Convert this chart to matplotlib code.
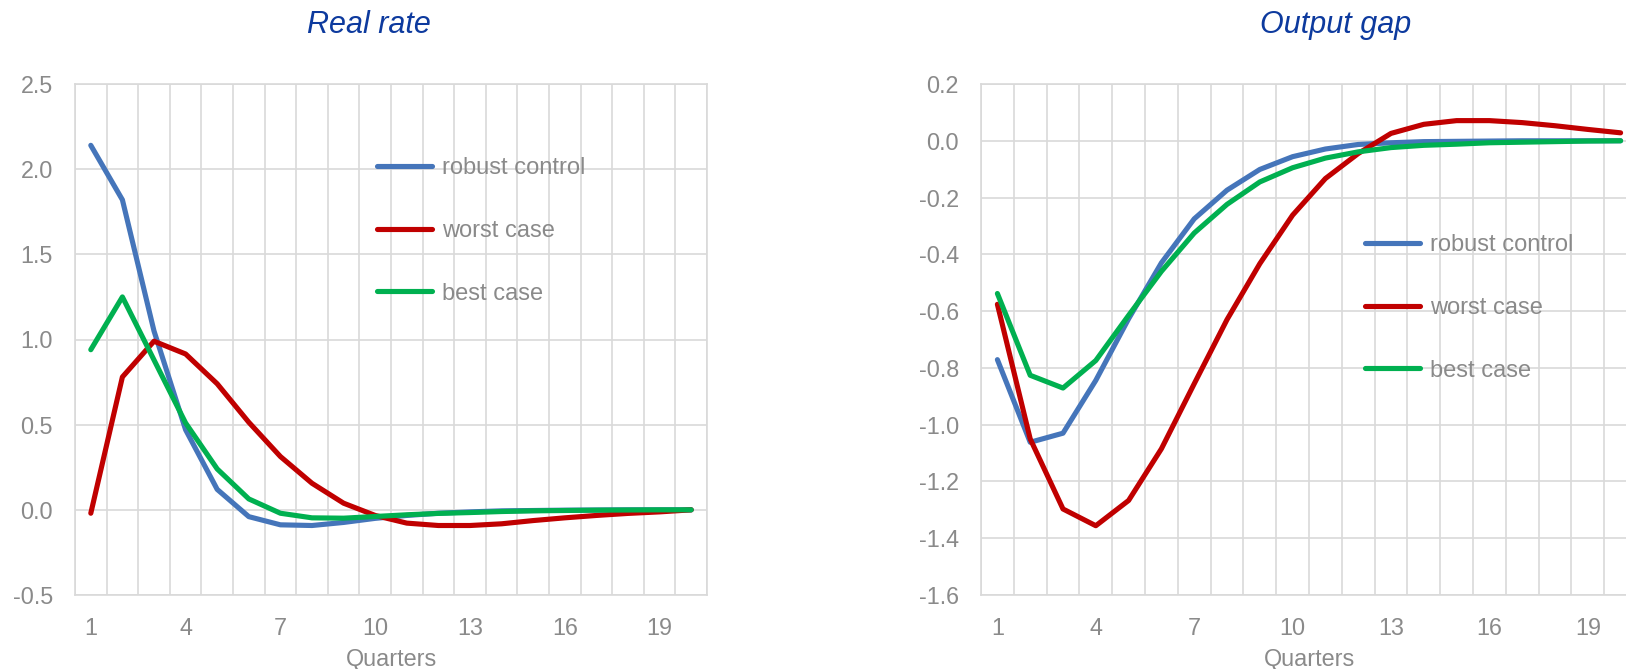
import numpy as np
import matplotlib.pyplot as plt
from matplotlib.ticker import FixedLocator, FuncFormatter

plt.rcParams['font.family'] = ['Liberation Sans', 'DejaVu Sans']

# quarters after the shock
quarters = np.arange(1, 21)

# real rate responses
real_robust = [2.14, 1.82, 1.05, 0.47, 0.12, -0.04, -0.088, -0.092, -0.074, -0.05,
               -0.033, -0.02, -0.012, -0.006, -0.004, -0.002, -0.001, 0.0, 0.0, 0.0]
real_worst = [-0.02, 0.78, 0.99, 0.915, 0.74, 0.514, 0.313, 0.156, 0.039, -0.033,
              -0.078, -0.092, -0.092, -0.082, -0.063, -0.047, -0.033, -0.021, -0.012, 0.0]
real_best = [0.94, 1.25, 0.88, 0.51, 0.24, 0.064, -0.02, -0.047, -0.049, -0.039,
             -0.029, -0.021, -0.016, -0.01, -0.006, -0.004, -0.002, -0.001, 0.0, 0.0]

# output gap responses
gap_robust = [-0.771, -1.062, -1.03, -0.844, -0.627, -0.43, -0.275, -0.174, -0.101, -0.056,
              -0.029, -0.013, -0.007, -0.003, -0.002, -0.001, 0.0, 0.0, 0.0, 0.0]
gap_worst = [-0.576, -1.05, -1.297, -1.356, -1.267, -1.085, -0.856, -0.63, -0.433, -0.262,
             -0.133, -0.045, 0.026, 0.058, 0.071, 0.071, 0.064, 0.053, 0.04, 0.028]
gap_best = [-0.538, -0.826, -0.871, -0.774, -0.615, -0.46, -0.325, -0.224, -0.145, -0.095,
            -0.061, -0.039, -0.024, -0.016, -0.012, -0.007, -0.005, -0.003, -0.001, 0.0]

labels = ['robust control', 'worst case', 'best case']
colors = ['#4575BA', '#C00000', '#00B050']
grey = '#8A8A8A'
grid_col = '#D9D9D9'

W, H = 1626, 669
fig = plt.figure(figsize=(W / 100, H / 100), dpi=100)


def fmt(v, pos):
    s = '%.1f' % v
    return '0.0' if s == '-0.0' else s


def setup(ax, yticks):
    ax.set_xlim(0.5, 20.5)
    ax.set_ylim(yticks[0], yticks[-1])
    ax.xaxis.set_major_locator(FixedLocator(range(1, 21, 3)))
    ax.xaxis.set_minor_locator(FixedLocator(np.arange(0.5, 21, 1)))
    ax.set_yticks(yticks)
    ax.yaxis.set_major_formatter(FuncFormatter(fmt))
    ax.grid(which='minor', axis='x', color=grid_col, lw=1.2)
    ax.grid(which='major', axis='y', color=grid_col, lw=1.2)
    ax.tick_params(which='both', length=0, labelsize=16.8, labelcolor=grey)
    ax.tick_params(axis='y', pad=16)
    ax.tick_params(axis='x', pad=15.5)
    for s in ax.spines.values():
        s.set_color(grid_col)
        s.set_linewidth(1.2)
    ax.set_axisbelow(True)
    ax.set_xlabel('Quarters', fontsize=16.8, color=grey, labelpad=6)


def draw(ax, series):
    for vals, lab, c in zip(series, labels, colors):
        ax.plot(quarters, vals, color=c, lw=3.7, label=lab,
                solid_capstyle='round', solid_joinstyle='round')


ax1 = fig.add_axes([75 / W, 1 - 595 / H, 632 / W, 511 / H])
setup(ax1, np.round(np.arange(-0.5, 2.51, 0.5), 1))
draw(ax1, [real_robust, real_worst, real_best])

ax2 = fig.add_axes([981 / W, 1 - 595 / H, 656 / W, 511 / H])
setup(ax2, np.round(np.arange(-1.6, 0.21, 0.2), 1))
draw(ax2, [gap_robust, gap_worst, gap_best])

leg_kw = dict(frameon=False, fontsize=17, labelcolor=grey, handlelength=2.35,
              handletextpad=0.42, labelspacing=1.73, borderpad=0, borderaxespad=0,
              loc='upper left')
ax1.legend(bbox_to_anchor=(377 / W, 1 - 157 / H), bbox_transform=fig.transFigure, **leg_kw)
ax2.legend(bbox_to_anchor=(1365 / W, 1 - 234 / H), bbox_transform=fig.transFigure, **leg_kw)

fig.text(369 / W, 1 - 25 / H, 'Real rate', ha='center', va='center',
         fontsize=22, style='italic', color='#0D3A9E')
fig.text(1336 / W, 1 - 25 / H, 'Output gap', ha='center', va='center',
         fontsize=22, style='italic', color='#0D3A9E')

fig.savefig('out.png', dpi=100)
